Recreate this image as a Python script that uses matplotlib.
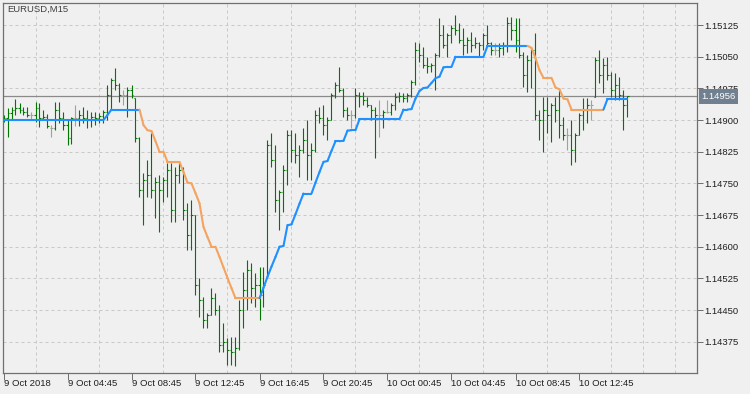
import matplotlib
matplotlib.use('Agg')
import matplotlib.pyplot as plt
from matplotlib.collections import LineCollection
from matplotlib.transforms import blended_transform_factory
import numpy as np

# EURUSD M15, prices in points (1e-5)
symbol = 'EURUSD,M15'
last_price = 1.14956

opens = [114900, 114905, 114917, 114924, 114928, 114924, 114919, 114912, 114912, 114928,
         114905, 114907, 114881, 114881, 114924, 114905, 114888, 114857, 114905, 114905,
         114912, 114905, 114900, 114907, 114905, 114910, 114919, 114959, 114995, 114983,
         114959, 114959, 114971, 114952, 114857, 114734, 114758, 114770, 114734, 114753,
         114734, 114758, 114782, 114687, 114770, 114782, 114687, 114628, 114675, 114509,
         114474, 114426, 114438, 114478, 114450, 114367, 114374, 114355, 114351, 114360,
         114450, 114497, 114545, 114502, 114509, 114486, 114526, 114841, 114805, 114711,
         114730, 114782, 114865, 114829, 114817, 114829, 114853, 114817, 114829, 114912,
         114905, 114888, 114900, 114959, 114983, 114971, 114924, 114912, 114912, 114959,
         114957, 114947, 114936, 114924, 114912, 114912, 114919, 114919, 114936, 114955,
         114957, 114952, 114959, 114990, 115066, 115054, 115030, 115028, 115030, 115054,
         115101, 115078, 115101, 115118, 115113, 115090, 115078, 115090, 115078, 115082,
         115078, 115101, 115082, 115066, 115066, 115071, 115078, 115130, 115113, 115090,
         115054, 115007, 115042, 115066, 114912, 114900, 114924, 114912, 114936, 114924,
         114888, 114865, 114865, 114829, 114865, 114912, 114924, 114936, 114955, 115042,
         115007, 115030, 115007, 114971, 114983, 114959, 114936]

highs = [114912, 114928, 114931, 114950, 114940, 114931, 114931, 114919, 114943, 114940,
         114924, 114914, 114888, 114943, 114943, 114919, 114900, 114907, 114936, 114924,
         114931, 114924, 114919, 114919, 114917, 114924, 114983, 115000, 115023, 114988,
         114971, 114978, 114983, 114952, 114860, 114775, 114805, 114869, 114765, 114770,
         114765, 114798, 114798, 114789, 114798, 114789, 114703, 114711, 114675, 114526,
         114481, 114443, 114502, 114490, 114462, 114419, 114384, 114386, 114386, 114474,
         114540, 114569, 114561, 114538, 114552, 114552, 114853, 114869, 114841, 114734,
         114793, 114876, 114876, 114869, 114841, 114881, 114900, 114846, 114924, 114931,
         114936, 114907, 114964, 114990, 115026, 114976, 114931, 114924, 114976, 114966,
         114966, 114955, 114936, 114931, 114947, 114924, 114947, 114940, 114964, 114966,
         114964, 114964, 114995, 115085, 115082, 115073, 115049, 115035, 115059, 115142,
         115125, 115106, 115125, 115149, 115130, 115118, 115097, 115108, 115097, 115085,
         115106, 115125, 115085, 115082, 115082, 115085, 115144, 115144, 115142, 115142,
         115061, 115054, 115073, 115106, 114924, 114955, 114955, 114940, 114955, 114971,
         114907, 114881, 114900, 114869, 114917, 114952, 114952, 114947, 115049, 115066,
         115047, 115049, 115014, 115011, 115002, 114971, 114958]

lows = [114895, 114860, 114900, 114912, 114917, 114912, 114907, 114900, 114895, 114884,
        114900, 114881, 114860, 114876, 114893, 114876, 114841, 114843, 114886, 114886,
        114893, 114881, 114884, 114888, 114893, 114893, 114900, 114924, 114971, 114943,
        114936, 114907, 114952, 114848, 114718, 114651, 114718, 114715, 114668, 114635,
        114706, 114718, 114658, 114658, 114751, 114663, 114592, 114592, 114486, 114434,
        114407, 114407, 114438, 114438, 114351, 114351, 114320, 114320, 114317, 114355,
        114407, 114450, 114467, 114457, 114426, 114457, 114526, 114789, 114682, 114640,
        114682, 114746, 114801, 114798, 114765, 114822, 114758, 114758, 114824, 114893,
        114865, 114853, 114900, 114952, 114966, 114907, 114900, 114881, 114905, 114931,
        114936, 114931, 114900, 114810, 114860, 114881, 114917, 114912, 114924, 114943,
        114943, 114943, 114955, 114983, 115037, 115023, 115011, 115014, 114971, 115049,
        115071, 115049, 115082, 115101, 115082, 115054, 115059, 115061, 115071, 115049,
        115066, 115078, 115054, 115054, 115049, 115054, 115061, 115090, 115061, 115047,
        114978, 114966, 114976, 114900, 114853, 114824, 114869, 114848, 114895, 114857,
        114853, 114829, 114793, 114801, 114865, 114876, 114893, 114900, 114955, 114988,
        114964, 114995, 114955, 114947, 114947, 114876, 114907]

closes = [114905, 114917, 114924, 114928, 114924, 114919, 114912, 114912, 114928, 114905,
          114907, 114886, 114881, 114924, 114905, 114888, 114857, 114905, 114905, 114912,
          114905, 114900, 114907, 114905, 114910, 114919, 114959, 114995, 114983, 114959,
          114959, 114971, 114959, 114857, 114734, 114758, 114770, 114734, 114753, 114734,
          114758, 114782, 114687, 114770, 114782, 114687, 114628, 114675, 114509, 114474,
          114426, 114438, 114478, 114450, 114367, 114374, 114355, 114351, 114360, 114450,
          114497, 114545, 114502, 114509, 114486, 114509, 114841, 114805, 114711, 114730,
          114782, 114865, 114829, 114817, 114829, 114853, 114817, 114829, 114912, 114905,
          114888, 114900, 114959, 114983, 114971, 114924, 114912, 114912, 114959, 114957,
          114947, 114936, 114924, 114912, 114912, 114919, 114919, 114936, 114955, 114957,
          114952, 114959, 114990, 115066, 115054, 115030, 115028, 115030, 115054, 115101,
          115078, 115101, 115118, 115113, 115090, 115078, 115090, 115078, 115082, 115078,
          115101, 115082, 115066, 115066, 115071, 115078, 115130, 115113, 115090, 115054,
          115007, 115042, 115066, 114912, 114900, 114924, 114912, 114936, 114924, 114888,
          114865, 114865, 114829, 114865, 114912, 114924, 114936, 114936, 115042, 115007,
          115030, 115007, 114971, 114983, 114959, 114936, 114956]

# step indicator line
stepma = [114900] * 26 + [114912] + [114925] * 8 + \
         [114888, 114876, 114874, 114850, 114825, 114825, 114801, 114801, 114801, 114801,
          114777, 114752, 114750, 114727, 114703, 114647, 114623, 114600, 114600, 114576,
          114551, 114526, 114502] + [114478] * 7 + \
         [114503, 114529, 114553, 114576, 114600, 114602, 114651, 114653, 114677, 114702,
          114726, 114726, 114726, 114752, 114777, 114801, 114803, 114827, 114850, 114850,
          114851, 114875, 114876, 114876] + [114902] * 11 + \
         [114925, 114925, 114926, 114951, 114969, 114976, 114977, 114988, 114999, 115003,
          115025, 115026, 115026] + [115050] * 8 + [115076] * 11 + \
         [115071, 115047, 115018, 115000, 115000, 115000, 114977, 114973, 114951, 114949] + \
         [114925] * 9 + [114950] * 6

x_label_bars = [0, 16, 32, 48, 64, 80, 96, 112, 128, 144]
x_labels = ['9 Oct 2018', '9 Oct 04:45', '9 Oct 08:45', '9 Oct 12:45', '9 Oct 16:45',
            '9 Oct 20:45', '10 Oct 00:45', '10 Oct 04:45', '10 Oct 08:45', '10 Oct 12:45']
y_ticks = [1.14375, 1.14450, 1.14525, 1.14600, 1.14675, 1.14750, 1.14825,
           1.14900, 1.14975, 1.15050, 1.15125]

o = np.array(opens) / 1e5
h = np.array(highs) / 1e5
l = np.array(lows) / 1e5
c = np.array(closes) / 1e5
s = np.array(stepma) / 1e5
x = np.arange(len(o))

bg = '#f0f0f0'
fig = plt.figure(figsize=(7.5, 3.94), dpi=100, facecolor=bg)
ax = fig.add_axes([3 / 750, 21 / 394, 694 / 750, 370.3 / 394], facecolor=bg)
ax.set_xlim(-0.125, -0.125 + 694 / 4)
ax.set_ylim(1.14301, 1.15178)

# grid
ax.set_yticks(y_ticks)
ax.set_yticklabels(['%.5f' % v for v in y_ticks])
ax.set_xticks(x_label_bars)
ax.set_xticklabels(x_labels, ha='left')
ax.set_xticks(np.arange(8, 174, 8), minor=True)
ax.grid(axis='y', which='major', color='#c8c8c8', linestyle=(0, (3, 3)), linewidth=0.72)
ax.grid(axis='x', which='minor', color='#c8c8c8', linestyle=(0, (3, 3)), linewidth=0.72)
ax.set_axisbelow(True)

ax.yaxis.tick_right()
ax.tick_params(axis='y', which='major', direction='out', length=4, width=0.72,
               color='#707070', labelsize=6.8, labelcolor='#202020', pad=1.5)
ax.tick_params(axis='x', which='major', direction='out', length=5, width=0.72,
               color='#707070', labelsize=6.8, labelcolor='#202020', pad=-0.5)
ax.tick_params(axis='x', which='minor', length=0)
for lab in ax.get_xticklabels() + ax.get_yticklabels():
    lab.set_fontfamily('Liberation Sans')
for sp in ax.spines.values():
    sp.set_color('#707070')
    sp.set_linewidth(0.9)

# bid line
ax.axhline(last_price, color='#8a8a8a', linewidth=0.9, zorder=1.5)

# OHLC bars
segs, cols = [], []
for i in range(len(x)):
    col = '#a0a0a0' if o[i] == c[i] else '#007800'
    segs.append([(x[i], l[i]), (x[i], h[i])])
    segs.append([(x[i] - 0.3, o[i]), (x[i], o[i])])
    segs.append([(x[i], c[i]), (x[i] + 0.3, c[i])])
    cols += [col] * 3
ax.add_collection(LineCollection(segs, colors=cols, linewidths=0.8, zorder=2))

# indicator: blue rising, orange falling, flat keeps last colour
ind_segs, ind_cols = [], []
up = True
for i in range(1, len(s)):
    if s[i] > s[i - 1]:
        up = True
    elif s[i] < s[i - 1]:
        up = False
    ind_segs.append([(x[i - 1], s[i - 1]), (x[i], s[i])])
    ind_cols.append('#1e90ff' if up else '#f4a460')
ax.add_collection(LineCollection(ind_segs, colors=ind_cols, linewidths=1.5,
                                 capstyle='round', zorder=3))

# price label on the right
tr = blended_transform_factory(ax.transAxes, ax.transData)
ax.text(1.0065, last_price, f'{last_price:.5f}', transform=tr, ha='left', va='center',
        fontsize=6.8, family='Liberation Sans', color='white', clip_on=False, zorder=5,
        bbox=dict(boxstyle='square,pad=0.28', facecolor='#708090', edgecolor='none'))

ax.text(0.006, 0.994, symbol, transform=ax.transAxes, ha='left', va='top',
        fontsize=6.8, family='Liberation Sans', color='#404040')

fig.savefig('out.png', dpi=100, facecolor=bg)
